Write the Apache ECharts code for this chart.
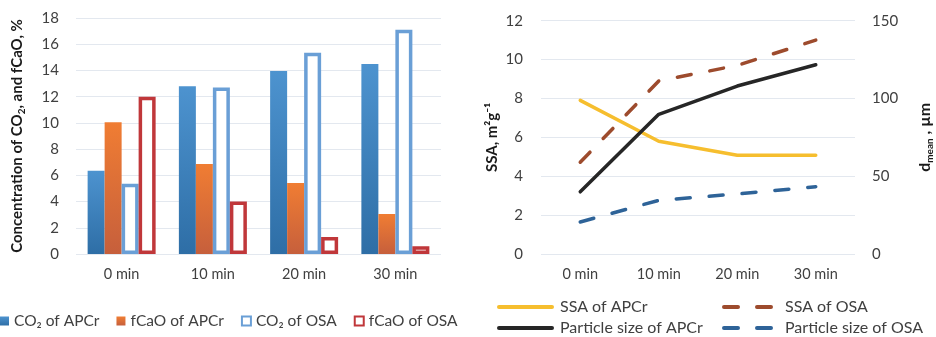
<!DOCTYPE html>
<html><head><meta charset="utf-8">
<script src="https://cdn.jsdelivr.net/npm/echarts@6/dist/echarts.min.js"></script>
<style>html,body{margin:0;padding:0;background:#fff}#c{width:936px;height:337px}</style>
</head><body><div id="c"></div>
<script>
const categories = ['0 min', '10 min', '20 min', '30 min'];
const co2APCr = [6.35, 12.8, 13.95, 14.5];
const fcaoAPCr = [10.05, 6.87, 5.42, 3.05];
const co2OSA = [5.35, 12.7, 15.35, 17.1];
const fcaoOSA = [12.0, 4.0, 1.3, 0.6];
const ssaAPCr = [7.9, 5.8, 5.08, 5.08];
const ssaOSA = [4.72, 8.9, 9.7, 11.0];
const sizeAPCr = [40, 89.8, 108, 121.7];
const sizeOSA = [20.6, 34.5, 38.6, 43.3];
const leftTicks = {min: 0, max: 18, interval: 2};
const ssaTicks = {min: 0, max: 12, interval: 2};
const sizeTicks = {min: 0, max: 150, interval: 50};

const FONT = 'Lato';
const TXT = '#404040';
const GRID = '#e3e8ef';
const lbl = {fontFamily: FONT, fontSize: 15, color: TXT};
const leg = {fontFamily: FONT, fontSize: 15.5, color: TXT};

function grad(top, bottom) {
  return new echarts.graphic.LinearGradient(0, 0, 0, 1, [{offset: 0, color: top}, {offset: 1, color: bottom}]);
}
function lineLegend(name, left, top) {
  return {left: left, top: top, padding: 0, itemWidth: 53, itemHeight: 14,
    itemStyle: {opacity: 0}, lineStyle: {width: 4},
    textStyle: Object.assign({}, leg, {fontSize: 16, padding: [0, 0, 0, 3]}), data: [name]};
}

const chart = echarts.init(document.getElementById('c'), null, {renderer: 'canvas'});
chart.setOption({
  animation: false,
  textStyle: {fontFamily: FONT},
  grid: [
    {left: 76, top: 18, width: 365, height: 236},
    {left: 541, top: 20.7, width: 318, height: 233.3}
  ],
  xAxis: [
    {type: 'category', gridIndex: 0, data: categories,
     axisLine: {show: false}, axisTick: {show: false},
     axisLabel: Object.assign({margin: 13}, lbl, {fontSize: 14.5})},
    {type: 'category', gridIndex: 1, data: categories,
     axisLine: {show: false}, axisTick: {show: false},
     axisLabel: Object.assign({margin: 13}, lbl, {fontSize: 14.5})}
  ],
  yAxis: [
    {type: 'value', gridIndex: 0, min: leftTicks.min, max: leftTicks.max, interval: leftTicks.interval,
     axisLine: {show: false}, axisTick: {show: false},
     axisLabel: Object.assign({margin: 17}, lbl),
     splitLine: {lineStyle: {color: GRID, width: 1}},
     name: '{b|Concentration of CO}{s|2}{b|, and fCaO, %}', nameLocation: 'middle', nameRotate: 90, nameGap: 49,
     nameTextStyle: {rich: {
       b: {fontFamily: FONT, fontSize: 15, fontWeight: 'bold', color: '#1a1a1a', lineHeight: 20},
       s: {fontFamily: FONT, fontSize: 10, fontWeight: 'bold', color: '#1a1a1a', lineHeight: 11, verticalAlign: 'bottom'}
     }}},
    {type: 'value', gridIndex: 1, min: ssaTicks.min, max: ssaTicks.max, interval: ssaTicks.interval,
     axisLine: {show: false}, axisTick: {show: false},
     axisLabel: Object.assign({margin: 18}, lbl),
     splitLine: {lineStyle: {color: GRID, width: 1}},
     name: 'SSA, m²g⁻¹', nameLocation: 'middle', nameRotate: 90, nameGap: 41,
     nameTextStyle: {fontFamily: FONT, fontSize: 15, fontWeight: 'bold', color: '#1a1a1a'}},
    {type: 'value', gridIndex: 1, position: 'right', min: sizeTicks.min, max: sizeTicks.max, interval: sizeTicks.interval,
     axisLine: {show: false}, axisTick: {show: false},
     axisLabel: Object.assign({margin: 17}, lbl),
     splitLine: {show: false},
     name: '{b|d}{s|mean}{b| , µm}', nameLocation: 'middle', nameRotate: 90, nameGap: 60,
     nameTextStyle: {rich: {
       b: {fontFamily: FONT, fontSize: 16, fontWeight: 'bold', color: '#1a1a1a', lineHeight: 20},
       s: {fontFamily: FONT, fontSize: 10, fontWeight: 'bold', color: '#1a1a1a', lineHeight: 11, verticalAlign: 'bottom'}
     }}}
  ],
  legend: [
    {left: 0, top: 313, padding: 0, itemWidth: 9, itemHeight: 9, itemGap: 17, icon: 'rect',
     textStyle: Object.assign({}, leg),
     data: ['CO₂ of APCr', 'fCaO of APCr', 'CO₂ of OSA', 'fCaO of OSA']},
    lineLegend('SSA of APCr', 497, 299),
    lineLegend('Particle size of APCr', 497, 320),
    lineLegend('SSA of OSA', 722, 299),
    lineLegend('Particle size of OSA', 722, 320)
  ],
  series: [
    {name: 'CO₂ of APCr', type: 'bar', xAxisIndex: 0, yAxisIndex: 0, data: co2APCr,
     barWidth: 17, barGap: '0%', itemStyle: {color: grad('#4d93cf', '#2e6ea6')}},
    {name: 'fCaO of APCr', type: 'bar', xAxisIndex: 0, yAxisIndex: 0, data: fcaoAPCr,
     barWidth: 17, barGap: '0%', itemStyle: {color: grad('#f07d33', '#c65f3c')}},
    {name: 'CO₂ of OSA', type: 'bar', xAxisIndex: 0, yAxisIndex: 0, data: co2OSA,
     barWidth: 17, barGap: '0%', itemStyle: {color: '#ffffff', borderColor: '#6a9fd6', borderWidth: 3.5}},
    {name: 'fCaO of OSA', type: 'bar', xAxisIndex: 0, yAxisIndex: 0, data: fcaoOSA,
     barWidth: 17, barGap: '0%', itemStyle: {color: '#ffffff', borderColor: '#c0373a', borderWidth: 3.5}},
    {name: 'SSA of APCr', type: 'line', xAxisIndex: 1, yAxisIndex: 1, data: ssaAPCr, symbol: 'none',
     lineStyle: {color: '#f6be2e', width: 3.5, cap: 'round', join: 'round'}, itemStyle: {color: '#f6be2e'}},
    {name: 'Particle size of APCr', type: 'line', xAxisIndex: 1, yAxisIndex: 2, data: sizeAPCr, symbol: 'none',
     lineStyle: {color: '#262626', width: 3.5, cap: 'round', join: 'round'}, itemStyle: {color: '#262626'}},
    {name: 'SSA of OSA', type: 'line', xAxisIndex: 1, yAxisIndex: 1, data: ssaOSA, symbol: 'none',
     lineStyle: {color: '#9d4b2d', width: 3.5, type: [14, 19], cap: 'round', join: 'round'}, itemStyle: {color: '#9d4b2d'}},
    {name: 'Particle size of OSA', type: 'line', xAxisIndex: 1, yAxisIndex: 2, data: sizeOSA, symbol: 'none',
     lineStyle: {color: '#2e6398', width: 3.5, type: [14, 19], cap: 'round', join: 'round'}, itemStyle: {color: '#2e6398'}}
  ]
});
</script></body></html>
